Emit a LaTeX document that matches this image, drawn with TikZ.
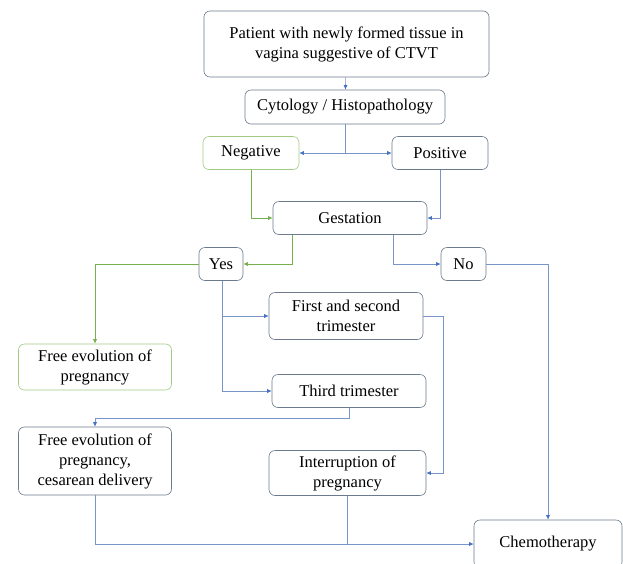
\documentclass[tikz,border=0pt]{standalone}
\usepackage{fontspec}
\setmainfont{Liberation Serif}
\usetikzlibrary{arrows.meta}
\definecolor{boxline}{RGB}{108,122,142}
\definecolor{linkblue}{RGB}{120,148,200}
\definecolor{tipblue}{RGB}{68,114,196}
\definecolor{linkgreen}{RGB}{118,176,78}
\definecolor{boxgreen}{RGB}{160,202,130}
\begin{document}
\begin{tikzpicture}[x=1pt,y=-1pt,line width=0.6pt,
        >={Latex[length=4.5pt,width=4pt]},
        step box/.style={draw=boxline,rounded corners=6pt,align=center,
            inner sep=2pt,font={\rmfamily\fontsize{16.5pt}{20pt}\selectfont}},
        green box/.style={step box,draw=boxgreen},
        link/.style={draw=linkblue,-{Latex[length=4.5pt,width=4pt,color=tipblue]}},
        plain link/.style={draw=linkblue},
        green link/.style={draw=linkgreen,-{Latex[length=4.5pt,width=4pt]}}]

    \useasboundingbox (0,0) rectangle (623,563);

    % Define vertices
    \node[step box,minimum width=285pt,minimum height=66pt] (patient) at (346.5,44)
        {Patient with newly formed tissue in\\vagina suggestive of CTVT};
    \node[step box,minimum width=200pt,minimum height=34pt] (cyto) at (345,107)
        {Cytology / Histopathology};
    \node[green box,minimum width=96pt,minimum height=33pt] (neg) at (251,153)
        {Negative};
    \node[step box,minimum width=96pt,minimum height=33pt] (pos) at (440,153)
        {Positive};
    \node[step box,minimum width=154pt,minimum height=33pt] (gest) at (350,218)
        {Gestation};
    \node[step box,minimum width=44pt,minimum height=33pt] (yes) at (221,264)
        {Yes};
    \node[step box,minimum width=45pt,minimum height=33pt] (no) at (463.5,264)
        {No};
    \node[step box,minimum width=154pt,minimum height=47pt] (first) at (346,316)
        {First and second\\trimester};
    \node[green box,minimum width=153pt,minimum height=46pt] (freeA) at (95,367)
        {Free evolution of\\pregnancy};
    \node[step box,minimum width=154pt,minimum height=33pt] (third) at (349,391)
        {Third trimester};
    \node[step box,minimum width=153pt,minimum height=68pt] (freeB) at (95,461)
        {Free evolution of\\pregnancy,\\cesarean delivery};
    \node[step box,minimum width=157pt,minimum height=45pt] (interr) at (347.5,473)
        {Interruption of\\pregnancy};
    \node[step box,minimum width=148pt,minimum height=48pt] (chemo) at (548,544)
        {Chemotherapy};
    \coordinate (split) at (cyto.south |- neg.east);

    % Draw edges
    \draw[link] (patient) -- (cyto);
    \draw[plain link] (cyto) -- (split);
    \draw[link] (split) -- (neg);
    \draw[link] (split) -- (pos);
    \draw[green link] (neg.south) |- (gest.west);
    \draw[link] (pos.south) |- (gest.east);
    \draw[green link] ([xshift=-58pt]gest.south) |- (yes.east);
    \draw[link] ([xshift=43pt]gest.south) |- (no.west);
    \draw[green link] (yes.west) -| (freeA.north);
    \draw[link] ([xshift=1pt]yes.south) |- (first.west);
    \draw[link] ([xshift=1pt]yes.south) |- (third.west);
    \draw[link] (first.east) -- ++(20,0) |- (interr.east);
    \draw[link] (third.south) -- ++(0,10) -| (freeB.north);
    \draw[link] (no.east) -| (chemo.north);
    \draw[link] (freeB.south) |- (chemo.west);
    \draw[plain link] (interr.south) -- (interr.south |- chemo.west);

\end{tikzpicture}
\end{document}
